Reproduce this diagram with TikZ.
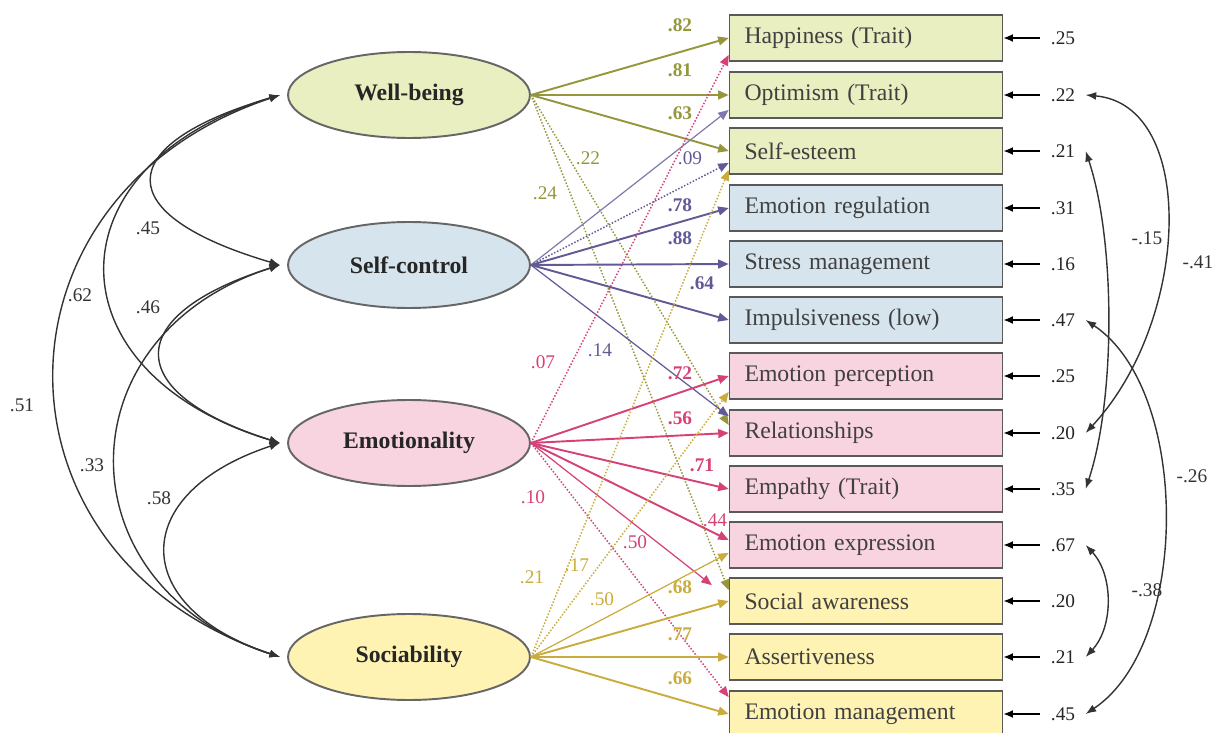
\documentclass[tikz,border=0pt]{standalone}
\usepackage{fontspec}
\setmainfont{Liberation Serif}
\usetikzlibrary{arrows.meta, shapes.geometric}

\definecolor{wbline}{RGB}{150,150,60}
\definecolor{wbfill}{RGB}{233,239,192}
\definecolor{scline}{RGB}{98,90,150}
\definecolor{scfill}{RGB}{214,229,237}
\definecolor{emoline}{RGB}{214,66,120}
\definecolor{emofill}{RGB}{247,212,223}
\definecolor{socline}{RGB}{202,172,62}
\definecolor{socfill}{RGB}{255,243,180}

\begin{document}
\begin{tikzpicture}[x=0.02cm, y=0.02cm,
        lat/.style={ellipse, draw=black!60, line width=1.1pt, minimum width=4.84cm, minimum height=1.72cm, inner sep=0pt, font=\bfseries\fontsize{13.5}{16}\selectfont, text=black!85},
        ind/.style={rectangle, draw=black!65, line width=0.9pt, minimum width=5.46cm, minimum height=0.92cm, text width=4.86cm, inner xsep=0.3cm, align=left, font=\fontsize{13.5}{16}\selectfont, text=black!75},
        res/.style={font=\fontsize{11}{13}\selectfont, text=black!85, inner sep=1pt, outer sep=5pt},
        lab/.style={font=\bfseries\fontsize{11}{13}\selectfont},
        sm/.style={font=\fontsize{11}{13}\selectfont},
        load/.style={-{Triangle[length=6pt,width=5pt]}, line width=1.1pt},
        cross/.style={-{Triangle[length=6pt,width=5pt]}, line width=0.85pt, densely dotted},
        weak/.style={-{Triangle[length=6pt,width=5pt]}, line width=0.7pt},
        err/.style={-{Latex[length=5.5pt,width=4.5pt]}, line width=0.9pt, black},
        cov/.style={{Latex[length=6pt,width=4.5pt]}-{Latex[length=6pt,width=4.5pt]}, line width=0.8pt, black!80}
    ]
        \useasboundingbox (0,0) rectangle (1221,-733);

        % Factores latentes
        \node [lat, fill=wbfill] (wb) at (409,-95) {Well-being};
        \node [lat, fill=scfill] (sc) at (409,-265) {Self-control};
        \node [lat, fill=emofill] (emo) at (409,-443) {Emotionality};
        \node [lat, fill=socfill] (soc) at (409,-657) {Sociability};

        % Indicadores
        \node [ind, fill=wbfill] (hap) at (866,-38) {Happiness (Trait)};
        \node [ind, fill=wbfill] (opt) at (866,-95) {Optimism (Trait)};
        \node [ind, fill=wbfill] (est) at (866,-151) {Self-esteem};
        \node [ind, fill=scfill] (ereg) at (866,-208) {Emotion regulation};
        \node [ind, fill=scfill] (stm) at (866,-264) {Stress management};
        \node [ind, fill=scfill] (imp) at (866,-320) {Impulsiveness (low)};
        \node [ind, fill=emofill] (eper) at (866,-376) {Emotion perception};
        \node [ind, fill=emofill] (rel) at (866,-433) {Relationships};
        \node [ind, fill=emofill] (emp) at (866,-489) {Empathy (Trait)};
        \node [ind, fill=emofill] (eexp) at (866,-545) {Emotion expression};
        \node [ind, fill=socfill] (saw) at (866,-601) {Social awareness};
        \node [ind, fill=socfill] (ass) at (866,-657) {Assertiveness};
        \node [ind, fill=socfill] (emg) at (866,-714) {Emotion management};

        % Errores
        \node [res] (r1) at (1063,-38) {.25};
        \node [res] (r2) at (1063,-95) {.22};
        \node [res] (r3) at (1063,-151) {.21};
        \node [res] (r4) at (1063,-208) {.31};
        \node [res] (r5) at (1063,-264) {.16};
        \node [res] (r6) at (1063,-320) {.47};
        \node [res] (r7) at (1063,-376) {.25};
        \node [res] (r8) at (1063,-433) {.20};
        \node [res] (r9) at (1063,-489) {.35};
        \node [res] (r10) at (1063,-545) {.67};
        \node [res] (r11) at (1063,-601) {.20};
        \node [res] (r12) at (1063,-657) {.21};
        \node [res] (r13) at (1063,-714) {.45};

        \draw [err] (r1) -- (hap);
        \draw [err] (r2) -- (opt);
        \draw [err] (r3) -- (est);
        \draw [err] (r4) -- (ereg);
        \draw [err] (r5) -- (stm);
        \draw [err] (r6) -- (imp);
        \draw [err] (r7) -- (eper);
        \draw [err] (r8) -- (rel);
        \draw [err] (r9) -- (emp);
        \draw [err] (r10) -- (eexp);
        \draw [err] (r11) -- (saw);
        \draw [err] (r12) -- (ass);
        \draw [err] (r13) -- (emg);

        % Cargas Well-being
        \draw [load, wbline] (wb.east) -- (hap.west);
        \draw [load, wbline] (wb.east) -- (opt.west);
        \draw [load, wbline] (wb.east) -- (est.west);
        \draw [cross, wbline] (wb.east) -- ([yshift=4.5pt]rel.west);
        \draw [cross, wbline] (wb.east) -- ([yshift=6.2pt]saw.west);
        \node [lab, wbline] at (680,-25) {.82};
        \node [lab, wbline] at (680,-70) {.81};
        \node [lab, wbline] at (680,-113) {.63};
        \node [sm, wbline] at (588,-158) {.22};
        \node [sm, wbline] at (545,-193) {.24};

        % Cargas Self-control
        \draw [weak, scline!80] (sc.east) -- ([yshift=-8.5pt]opt.west);
        \draw [cross, scline] (sc.east) -- ([yshift=-6.8pt]est.west);
        \draw [load, scline] (sc.east) -- (ereg.west);
        \draw [load, scline] (sc.east) -- (stm.west);
        \draw [load, scline] (sc.east) -- (imp.west);
        \draw [weak, scline] (sc.east) -- ([yshift=9.6pt]rel.west);
        \node [sm, scline] at (690,-158) {.09};
        \node [lab, scline] at (680,-205) {.78};
        \node [lab, scline] at (680,-238) {.88};
        \node [lab, scline] at (702,-283) {.64};
        \node [sm, scline] at (600,-350) {.14};

        % Cargas Emotionality
        \draw [cross, emoline] (emo.east) -- ([yshift=-9.6pt]hap.west);
        \draw [load, emoline] (emo.east) -- (eper.west);
        \draw [load, emoline] (emo.east) -- (rel.west);
        \draw [load, emoline] (emo.east) -- (emp.west);
        \draw [load, emoline] (emo.east) -- ([yshift=2.8pt]eexp.west);
        \draw [weak, emoline] (emo.east) -- ([xshift=-9.6pt,yshift=9pt]saw.west);
        \draw [cross, emoline] (emo.east) -- ([yshift=9.6pt]emg.west);
        \node [sm, emoline] at (543,-362) {.07};
        \node [lab, emoline] at (680,-373) {.72};
        \node [lab, emoline] at (680,-418) {.56};
        \node [lab, emoline] at (702,-465) {.71};
        \node [sm, emoline] at (715,-520) {.44};
        \node [sm, emoline] at (533,-497) {.10};
        \node [sm, emoline] at (635,-542) {.50};

        % Cargas Sociability
        \draw [cross, socline] (soc.east) -- ([yshift=-10.8pt]est.west);
        \draw [cross, socline] (soc.east) -- ([yshift=-9pt]eper.west);
        \draw [weak, socline] (soc.east) -- ([yshift=-4.5pt]eexp.west);
        \draw [load, socline] (soc.east) -- (saw.west);
        \draw [load, socline] (soc.east) -- (ass.west);
        \draw [load, socline] (soc.east) -- (emg.west);
        \node [sm, socline] at (532,-577) {.21};
        \node [sm, socline] at (577,-565) {.17};
        \node [sm, socline] at (602,-599) {.50};
        \node [lab, socline] at (680,-587) {.68};
        \node [lab, socline] at (680,-634) {.77};
        \node [lab, socline] at (680,-678) {.66};

        % Covarianzas entre factores
        \draw [cov] ([xshift=-4pt]wb.west) .. controls +(-170,-50) and +(-170,50) .. ([xshift=-4pt]sc.west);
        \draw [cov] ([xshift=-4pt]wb.west) .. controls +(-232,-70) and +(-232,70) .. ([xshift=-4pt]emo.west);
        \draw [cov] ([xshift=-4pt]wb.west) .. controls +(-300,-100) and +(-300,100) .. ([xshift=-4pt]soc.west);
        \draw [cov] ([xshift=-4pt]sc.west) .. controls +(-159,-50) and +(-159,50) .. ([xshift=-4pt]emo.west);
        \draw [cov] ([xshift=-4pt]sc.west) .. controls +(-219,-70) and +(-219,70) .. ([xshift=-4pt]soc.west);
        \draw [cov] ([xshift=-4pt]emo.west) .. controls +(-152,-50) and +(-152,50) .. ([xshift=-4pt]soc.west);
        \node [sm, black!80] at (148,-228) {.45};
        \node [sm, black!80] at (80,-295) {.62};
        \node [sm, black!80] at (22,-405) {.51};
        \node [sm, black!80] at (148,-307) {.46};
        \node [sm, black!80] at (92,-465) {.33};
        \node [sm, black!80] at (159,-498) {.58};

        % Covarianzas entre errores
        \draw [cov] (r2.east) .. controls +(112,-10) and +(105,113) .. (r8.east);
        \draw [cov] (r3.east) .. controls +(30,-90) and +(30,90) .. (r9.east);
        \draw [cov] (r6.east) .. controls +(105,-70) and +(105,70) .. (r13.east);
        \draw [cov] (r10.east) .. controls +(28,-30) and +(28,30) .. (r12.east);
        \node [sm, black!80] at (1198,-262) {-.41};
        \node [sm, black!80] at (1147,-238) {-.15};
        \node [sm, black!80] at (1192,-476) {-.26};
        \node [sm, black!80] at (1147,-590) {-.38};

    \end{tikzpicture}
\end{document}
